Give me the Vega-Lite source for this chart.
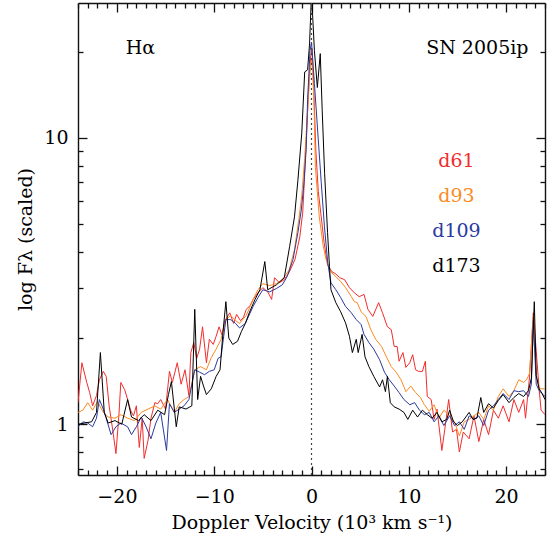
{
"$schema": "https://vega.github.io/schema/vega-lite/v6.json",
"width": 467, "height": 472,
"autosize": {"type": "none"},
"padding": {"left": 78, "top": 3, "right": 8, "bottom": 63},
"background": "white",
"config": {"view": {"stroke": null},
 "axis": {"grid": false, "domainColor": "#111", "domainWidth": 1.4, "tickColor": "#111", "tickWidth": 1.3, "labelFont": "DejaVu Serif", "labelFontSize": 19, "labelColor": "#000", "titleFont": "DejaVu Serif", "titleFontSize": 19, "titleFontWeight": "normal", "titleColor": "#000", "labelOverlap": false, "labelFlush": false}},
"data": {"values": [
{"s":"d61","v":-24,"f":1.19},{"s":"d61","v":-23.6,"f":1.64},{"s":"d61","v":-23.1,"f":1.40},{"s":"d61","v":-22.8,"f":1.29},{"s":"d61","v":-22.5,"f":1.16},{"s":"d61","v":-22.1,"f":1.26},{"s":"d61","v":-21.8,"f":1.43},{"s":"d61","v":-21.4,"f":1.53},{"s":"d61","v":-21.1,"f":1.47},{"s":"d61","v":-20.8,"f":1.16},{"s":"d61","v":-20.4,"f":0.94},{"s":"d61","v":-20.1,"f":0.79},{"s":"d61","v":-19.8,"f":1.07},{"s":"d61","v":-19.6,"f":1.40},{"s":"d61","v":-19.2,"f":1.32},{"s":"d61","v":-18.9,"f":1.22},{"s":"d61","v":-18.6,"f":1.12},{"s":"d61","v":-18.3,"f":1.07},{"s":"d61","v":-18.0,"f":1.16},{"s":"d61","v":-17.7,"f":0.83},{"s":"d61","v":-17.4,"f":1.05},{"s":"d61","v":-17.2,"f":0.76},{"s":"d61","v":-16.8,"f":0.88},{"s":"d61","v":-16.5,"f":1.05},{"s":"d61","v":-16.1,"f":1.19},{"s":"d61","v":-15.8,"f":1.18},{"s":"d61","v":-15.5,"f":1.22},{"s":"d61","v":-15.0,"f":1.13},{"s":"d61","v":-14.6,"f":1.53},{"s":"d61","v":-14.3,"f":1.40},{"s":"d61","v":-13.8,"f":1.64},{"s":"d61","v":-13.4,"f":1.38},{"s":"d61","v":-13.0,"f":1.55},{"s":"d61","v":-12.6,"f":1.26},{"s":"d61","v":-12.4,"f":1.78},{"s":"d61","v":-12.1,"f":1.93},{"s":"d61","v":-11.8,"f":1.70},{"s":"d61","v":-11.5,"f":1.83},{"s":"d61","v":-11.2,"f":2.19},{"s":"d61","v":-10.8,"f":1.64},{"s":"d61","v":-10.5,"f":1.98},{"s":"d61","v":-10.1,"f":1.90},{"s":"d61","v":-9.8,"f":2.03},{"s":"d61","v":-9.5,"f":2.19},{"s":"d61","v":-9.2,"f":2.05},{"s":"d61","v":-8.9,"f":2.30},{"s":"d61","v":-8.4,"f":2.45},{"s":"d61","v":-8.0,"f":2.25},{"s":"d61","v":-7.7,"f":2.42},{"s":"d61","v":-7.3,"f":2.30},{"s":"d61","v":-7.0,"f":2.36},{"s":"d61","v":-6.7,"f":2.52},{"s":"d61","v":-6.3,"f":2.60},{"s":"d61","v":-6.0,"f":2.73},{"s":"d61","v":-5.5,"f":2.88},{"s":"d61","v":-5.0,"f":3.0},{"s":"d61","v":-4.5,"f":2.9},{"s":"d61","v":-4.1,"f":2.73},{"s":"d61","v":-3.8,"f":3.25},{"s":"d61","v":-3.3,"f":3.12},{"s":"d61","v":-2.8,"f":3.2},{"s":"d61","v":-2.3,"f":3.39},{"s":"d61","v":-1.7,"f":3.76},{"s":"d61","v":-1.2,"f":4.52},{"s":"d61","v":-0.9,"f":5.5},{"s":"d61","v":-0.7,"f":7.5},{"s":"d61","v":-0.5,"f":10.4},{"s":"d61","v":-0.27,"f":15.5},{"s":"d61","v":-0.1,"f":19},{"s":"d61","v":0.05,"f":20.5},{"s":"d61","v":0.2,"f":16},{"s":"d61","v":0.45,"f":9},{"s":"d61","v":0.7,"f":6.5},{"s":"d61","v":1.0,"f":5.3},{"s":"d61","v":1.3,"f":4.3},{"s":"d61","v":1.65,"f":3.6},{"s":"d61","v":2.1,"f":3.41},{"s":"d61","v":2.5,"f":3.35},{"s":"d61","v":2.9,"f":3.25},{"s":"d61","v":3.4,"f":3.2},{"s":"d61","v":3.9,"f":3.0},{"s":"d61","v":4.4,"f":2.88},{"s":"d61","v":4.9,"f":2.79},{"s":"d61","v":5.4,"f":2.84},{"s":"d61","v":5.8,"f":2.52},{"s":"d61","v":6.3,"f":2.38},{"s":"d61","v":6.9,"f":2.66},{"s":"d61","v":7.3,"f":2.45},{"s":"d61","v":7.8,"f":2.19},{"s":"d61","v":8.2,"f":2.14},{"s":"d61","v":8.5,"f":1.87},{"s":"d61","v":8.8,"f":1.87},{"s":"d61","v":9.0,"f":1.66},{"s":"d61","v":9.4,"f":1.78},{"s":"d61","v":9.7,"f":1.58},{"s":"d61","v":10.1,"f":1.64},{"s":"d61","v":10.4,"f":1.75},{"s":"d61","v":10.7,"f":1.55},{"s":"d61","v":11.0,"f":1.53},{"s":"d61","v":11.4,"f":1.53},{"s":"d61","v":11.7,"f":1.66},{"s":"d61","v":11.9,"f":1.25},{"s":"d61","v":12.3,"f":1.22},{"s":"d61","v":12.6,"f":1.04},{"s":"d61","v":12.9,"f":1.13},{"s":"d61","v":13.4,"f":0.81},{"s":"d61","v":13.7,"f":0.96},{"s":"d61","v":14.1,"f":1.22},{"s":"d61","v":14.5,"f":0.94},{"s":"d61","v":14.9,"f":0.96},{"s":"d61","v":15.2,"f":0.80},{"s":"d61","v":15.6,"f":0.94},{"s":"d61","v":16.2,"f":0.89},{"s":"d61","v":16.7,"f":1.07},{"s":"d61","v":17.2,"f":0.87},{"s":"d61","v":17.7,"f":1.04},{"s":"d61","v":18.2,"f":0.92},{"s":"d61","v":18.7,"f":1.12},{"s":"d61","v":19.2,"f":1.05},{"s":"d61","v":19.7,"f":1.16},{"s":"d61","v":20.3,"f":1.02},{"s":"d61","v":20.8,"f":1.22},{"s":"d61","v":21.3,"f":1.10},{"s":"d61","v":21.8,"f":1.22},{"s":"d61","v":22.0,"f":1.05},{"s":"d61","v":22.4,"f":1.45},{"s":"d61","v":22.8,"f":2.45},{"s":"d61","v":23.1,"f":1.80},{"s":"d61","v":23.4,"f":1.32},{"s":"d61","v":23.6,"f":1.12},{"s":"d61","v":24,"f":1.08},
{"s":"d93","v":-24,"f":1.10},{"s":"d93","v":-23.5,"f":1.12},{"s":"d93","v":-23.0,"f":1.19},{"s":"d93","v":-22.5,"f":1.12},{"s":"d93","v":-22.0,"f":1.20},{"s":"d93","v":-21.4,"f":1.10},{"s":"d93","v":-20.9,"f":1.06},{"s":"d93","v":-20.2,"f":1.05},{"s":"d93","v":-19.6,"f":1.08},{"s":"d93","v":-18.9,"f":1.05},{"s":"d93","v":-18.2,"f":1.03},{"s":"d93","v":-17.5,"f":1.10},{"s":"d93","v":-16.8,"f":1.13},{"s":"d93","v":-16.1,"f":1.16},{"s":"d93","v":-15.5,"f":1.13},{"s":"d93","v":-14.8,"f":1.22},{"s":"d93","v":-14.1,"f":1.10},{"s":"d93","v":-13.6,"f":1.18},{"s":"d93","v":-13.1,"f":1.22},{"s":"d93","v":-12.6,"f":1.25},{"s":"d93","v":-12.0,"f":1.55},{"s":"d93","v":-11.4,"f":1.59},{"s":"d93","v":-10.8,"f":1.55},{"s":"d93","v":-10.3,"f":1.71},{"s":"d93","v":-9.8,"f":1.83},{"s":"d93","v":-9.3,"f":1.98},{"s":"d93","v":-8.8,"f":2.32},{"s":"d93","v":-8.3,"f":2.40},{"s":"d93","v":-7.8,"f":2.30},{"s":"d93","v":-7.4,"f":2.25},{"s":"d93","v":-6.7,"f":2.40},{"s":"d93","v":-6.0,"f":2.73},{"s":"d93","v":-5.5,"f":2.95},{"s":"d93","v":-5.0,"f":3.1},{"s":"d93","v":-4.3,"f":3.05},{"s":"d93","v":-3.6,"f":3.1},{"s":"d93","v":-3.0,"f":3.2},{"s":"d93","v":-2.3,"f":3.46},{"s":"d93","v":-1.75,"f":4.07},{"s":"d93","v":-1.3,"f":5.2},{"s":"d93","v":-1.0,"f":6.3},{"s":"d93","v":-0.7,"f":8.5},{"s":"d93","v":-0.4,"f":12.5},{"s":"d93","v":-0.15,"f":17},{"s":"d93","v":0.05,"f":19},{"s":"d93","v":0.25,"f":13.6},{"s":"d93","v":0.4,"f":7.9},{"s":"d93","v":0.8,"f":5.3},{"s":"d93","v":1.2,"f":4.2},{"s":"d93","v":1.5,"f":3.76},{"s":"d93","v":2.0,"f":3.40},{"s":"d93","v":2.5,"f":3.28},{"s":"d93","v":3.0,"f":3.15},{"s":"d93","v":3.5,"f":3.0},{"s":"d93","v":4.1,"f":2.79},{"s":"d93","v":4.4,"f":2.68},{"s":"d93","v":4.7,"f":2.66},{"s":"d93","v":5.1,"f":2.47},{"s":"d93","v":5.6,"f":2.38},{"s":"d93","v":6.1,"f":2.14},{"s":"d93","v":6.6,"f":1.98},{"s":"d93","v":7.2,"f":1.87},{"s":"d93","v":7.7,"f":1.72},{"s":"d93","v":8.2,"f":1.59},{"s":"d93","v":8.7,"f":1.52},{"s":"d93","v":9.2,"f":1.43},{"s":"d93","v":9.7,"f":1.30},{"s":"d93","v":10.2,"f":1.36},{"s":"d93","v":10.7,"f":1.29},{"s":"d93","v":11.2,"f":1.24},{"s":"d93","v":11.6,"f":1.17},{"s":"d93","v":12.1,"f":1.11},{"s":"d93","v":12.6,"f":1.17},{"s":"d93","v":13.1,"f":1.05},{"s":"d93","v":13.6,"f":1.12},{"s":"d93","v":14.2,"f":1.07},{"s":"d93","v":14.7,"f":1.02},{"s":"d93","v":15.2,"f":0.91},{"s":"d93","v":15.7,"f":1.02},{"s":"d93","v":16.2,"f":1.04},{"s":"d93","v":16.7,"f":1.07},{"s":"d93","v":17.2,"f":1.10},{"s":"d93","v":17.7,"f":1.04},{"s":"d93","v":18.2,"f":1.16},{"s":"d93","v":18.7,"f":1.12},{"s":"d93","v":19.2,"f":1.25},{"s":"d93","v":19.7,"f":1.33},{"s":"d93","v":20.3,"f":1.25},{"s":"d93","v":20.8,"f":1.31},{"s":"d93","v":21.3,"f":1.43},{"s":"d93","v":21.8,"f":1.40},{"s":"d93","v":22.1,"f":1.43},{"s":"d93","v":22.4,"f":1.50},{"s":"d93","v":22.8,"f":2.38},{"s":"d93","v":23.1,"f":1.48},{"s":"d93","v":23.4,"f":1.33},{"s":"d93","v":24,"f":1.33},
{"s":"d109","v":-24,"f":0.98},{"s":"d109","v":-23.5,"f":1.02},{"s":"d109","v":-23.0,"f":1.01},{"s":"d109","v":-22.5,"f":0.98},{"s":"d109","v":-22.1,"f":1.05},{"s":"d109","v":-21.8,"f":1.22},{"s":"d109","v":-21.4,"f":1.13},{"s":"d109","v":-21.1,"f":1.05},{"s":"d109","v":-20.6,"f":0.92},{"s":"d109","v":-20.1,"f":0.98},{"s":"d109","v":-19.6,"f":1.01},{"s":"d109","v":-18.9,"f":0.98},{"s":"d109","v":-18.5,"f":0.92},{"s":"d109","v":-18.0,"f":0.98},{"s":"d109","v":-17.5,"f":1.06},{"s":"d109","v":-17.0,"f":0.98},{"s":"d109","v":-16.5,"f":0.89},{"s":"d109","v":-16.0,"f":1.01},{"s":"d109","v":-15.5,"f":1.10},{"s":"d109","v":-14.9,"f":0.81},{"s":"d109","v":-14.6,"f":1.18},{"s":"d109","v":-14.1,"f":1.10},{"s":"d109","v":-13.6,"f":1.13},{"s":"d109","v":-13.1,"f":1.16},{"s":"d109","v":-12.6,"f":1.22},{"s":"d109","v":-12.0,"f":1.55},{"s":"d109","v":-11.5,"f":1.52},{"s":"d109","v":-11.0,"f":1.49},{"s":"d109","v":-10.5,"f":1.53},{"s":"d109","v":-10.0,"f":1.55},{"s":"d109","v":-9.6,"f":1.70},{"s":"d109","v":-9.3,"f":1.72},{"s":"d109","v":-8.8,"f":2.32},{"s":"d109","v":-8.3,"f":2.32},{"s":"d109","v":-7.8,"f":2.25},{"s":"d109","v":-7.4,"f":2.17},{"s":"d109","v":-6.8,"f":2.25},{"s":"d109","v":-6.0,"f":2.58},{"s":"d109","v":-5.5,"f":2.77},{"s":"d109","v":-5.0,"f":2.95},{"s":"d109","v":-4.3,"f":2.9},{"s":"d109","v":-3.6,"f":2.98},{"s":"d109","v":-3.0,"f":3.07},{"s":"d109","v":-2.5,"f":3.28},{"s":"d109","v":-1.9,"f":3.76},{"s":"d109","v":-1.4,"f":4.67},{"s":"d109","v":-1.05,"f":5.6},{"s":"d109","v":-0.8,"f":6.8},{"s":"d109","v":-0.55,"f":9.1},{"s":"d109","v":-0.4,"f":13.6},{"s":"d109","v":-0.15,"f":20.2},{"s":"d109","v":0.0,"f":21.6},{"s":"d109","v":0.3,"f":15.5},{"s":"d109","v":0.65,"f":10.4},{"s":"d109","v":1.0,"f":7.0},{"s":"d109","v":1.33,"f":4.9},{"s":"d109","v":1.67,"f":3.66},{"s":"d109","v":2.0,"f":3.12},{"s":"d109","v":2.5,"f":2.95},{"s":"d109","v":3.0,"f":2.77},{"s":"d109","v":3.5,"f":2.58},{"s":"d109","v":4.1,"f":2.45},{"s":"d109","v":4.6,"f":2.32},{"s":"d109","v":5.1,"f":2.23},{"s":"d109","v":5.4,"f":2.06},{"s":"d109","v":5.9,"f":1.93},{"s":"d109","v":6.4,"f":1.83},{"s":"d109","v":7.0,"f":1.68},{"s":"d109","v":7.5,"f":1.52},{"s":"d109","v":8.0,"f":1.43},{"s":"d109","v":8.5,"f":1.36},{"s":"d109","v":9.0,"f":1.29},{"s":"d109","v":9.5,"f":1.22},{"s":"d109","v":10.1,"f":1.17},{"s":"d109","v":10.6,"f":1.19},{"s":"d109","v":11.1,"f":1.12},{"s":"d109","v":11.6,"f":1.08},{"s":"d109","v":12.1,"f":1.10},{"s":"d109","v":12.6,"f":1.02},{"s":"d109","v":13.1,"f":1.07},{"s":"d109","v":13.6,"f":0.99},{"s":"d109","v":14.2,"f":1.07},{"s":"d109","v":14.7,"f":0.99},{"s":"d109","v":15.2,"f":1.02},{"s":"d109","v":15.7,"f":0.96},{"s":"d109","v":16.2,"f":1.07},{"s":"d109","v":16.7,"f":1.04},{"s":"d109","v":17.2,"f":1.07},{"s":"d109","v":17.7,"f":0.99},{"s":"d109","v":18.2,"f":1.12},{"s":"d109","v":18.7,"f":1.16},{"s":"d109","v":19.2,"f":1.22},{"s":"d109","v":19.7,"f":1.28},{"s":"d109","v":20.3,"f":1.22},{"s":"d109","v":20.8,"f":1.31},{"s":"d109","v":21.3,"f":1.30},{"s":"d109","v":21.8,"f":1.31},{"s":"d109","v":22.3,"f":1.25},{"s":"d109","v":22.6,"f":1.38},{"s":"d109","v":22.8,"f":2.3},{"s":"d109","v":23.1,"f":1.38},{"s":"d109","v":23.4,"f":1.31},{"s":"d109","v":24,"f":1.25},
{"s":"d173","v":-24,"f":1.0},{"s":"d173","v":-23.3,"f":1.01},{"s":"d173","v":-22.6,"f":1.02},{"s":"d173","v":-22.1,"f":1.10},{"s":"d173","v":-21.7,"f":1.78},{"s":"d173","v":-21.3,"f":1.10},{"s":"d173","v":-20.9,"f":1.01},{"s":"d173","v":-20.2,"f":1.03},{"s":"d173","v":-19.5,"f":1.0},{"s":"d173","v":-18.9,"f":1.22},{"s":"d173","v":-18.5,"f":1.06},{"s":"d173","v":-17.8,"f":1.03},{"s":"d173","v":-17.2,"f":1.08},{"s":"d173","v":-16.5,"f":1.03},{"s":"d173","v":-15.8,"f":1.12},{"s":"d173","v":-15.1,"f":1.08},{"s":"d173","v":-14.7,"f":1.27},{"s":"d173","v":-14.4,"f":1.41},{"s":"d173","v":-13.9,"f":0.98},{"s":"d173","v":-13.6,"f":1.15},{"s":"d173","v":-12.9,"f":1.13},{"s":"d173","v":-12.3,"f":1.16},{"s":"d173","v":-12.0,"f":2.52},{"s":"d173","v":-11.7,"f":1.22},{"s":"d173","v":-11.4,"f":1.47},{"s":"d173","v":-11.1,"f":1.36},{"s":"d173","v":-10.8,"f":1.27},{"s":"d173","v":-10.3,"f":1.33},{"s":"d173","v":-9.8,"f":1.47},{"s":"d173","v":-9.4,"f":1.55},{"s":"d173","v":-9.1,"f":2.09},{"s":"d173","v":-8.8,"f":2.68},{"s":"d173","v":-8.5,"f":2.0},{"s":"d173","v":-8.1,"f":1.90},{"s":"d173","v":-7.6,"f":1.95},{"s":"d173","v":-7.2,"f":2.11},{"s":"d173","v":-6.8,"f":2.25},{"s":"d173","v":-6.4,"f":2.45},{"s":"d173","v":-5.8,"f":2.73},{"s":"d173","v":-5.3,"f":2.95},{"s":"d173","v":-4.8,"f":3.7},{"s":"d173","v":-4.5,"f":2.95},{"s":"d173","v":-3.6,"f":3.07},{"s":"d173","v":-2.8,"f":3.25},{"s":"d173","v":-2.25,"f":4.17},{"s":"d173","v":-1.75,"f":5.3},{"s":"d173","v":-1.4,"f":7.1},{"s":"d173","v":-1.0,"f":10.4},{"s":"d173","v":-0.7,"f":17},{"s":"d173","v":-0.4,"f":17.3},{"s":"d173","v":-0.2,"f":21.3},{"s":"d173","v":0.0,"f":32},{"s":"d173","v":0.3,"f":20.2},{"s":"d173","v":0.6,"f":15},{"s":"d173","v":0.9,"f":19.7},{"s":"d173","v":1.1,"f":12.5},{"s":"d173","v":1.35,"f":7.5},{"s":"d173","v":1.65,"f":4.67},{"s":"d173","v":1.85,"f":3.55},{"s":"d173","v":2.0,"f":2.95},{"s":"d173","v":2.5,"f":2.66},{"s":"d173","v":3.0,"f":2.47},{"s":"d173","v":3.5,"f":2.26},{"s":"d173","v":3.9,"f":2.03},{"s":"d173","v":4.2,"f":1.78},{"s":"d173","v":4.6,"f":1.98},{"s":"d173","v":4.8,"f":1.78},{"s":"d173","v":5.2,"f":2.06},{"s":"d173","v":5.5,"f":1.72},{"s":"d173","v":5.9,"f":1.59},{"s":"d173","v":6.4,"f":1.47},{"s":"d173","v":7.0,"f":1.35},{"s":"d173","v":7.3,"f":1.43},{"s":"d173","v":7.6,"f":1.30},{"s":"d173","v":7.8,"f":1.47},{"s":"d173","v":8.1,"f":1.19},{"s":"d173","v":8.5,"f":1.15},{"s":"d173","v":9.0,"f":1.13},{"s":"d173","v":9.5,"f":1.10},{"s":"d173","v":9.9,"f":1.04},{"s":"d173","v":10.4,"f":1.12},{"s":"d173","v":10.9,"f":1.06},{"s":"d173","v":11.4,"f":1.12},{"s":"d173","v":11.9,"f":1.08},{"s":"d173","v":12.4,"f":1.05},{"s":"d173","v":12.9,"f":1.10},{"s":"d173","v":13.4,"f":1.02},{"s":"d173","v":13.9,"f":1.04},{"s":"d173","v":14.2,"f":1.12},{"s":"d173","v":14.6,"f":1.02},{"s":"d173","v":15.0,"f":0.99},{"s":"d173","v":15.5,"f":1.02},{"s":"d173","v":16.2,"f":1.10},{"s":"d173","v":16.6,"f":1.04},{"s":"d173","v":17.0,"f":1.05},{"s":"d173","v":17.4,"f":1.24},{"s":"d173","v":17.7,"f":1.10},{"s":"d173","v":18.2,"f":1.18},{"s":"d173","v":18.7,"f":1.14},{"s":"d173","v":19.2,"f":1.21},{"s":"d173","v":19.7,"f":1.27},{"s":"d173","v":20.3,"f":1.19},{"s":"d173","v":20.8,"f":1.24},{"s":"d173","v":21.3,"f":1.28},{"s":"d173","v":21.8,"f":1.25},{"s":"d173","v":22.3,"f":1.31},{"s":"d173","v":22.6,"f":1.45},{"s":"d173","v":22.9,"f":2.68},{"s":"d173","v":23.1,"f":1.48},{"s":"d173","v":23.4,"f":1.33},{"s":"d173","v":23.7,"f":1.28},{"s":"d173","v":24,"f":1.22}
]},
"resolve": {"axis": {"x": "independent", "y": "independent"}},
"layer": [
 {"mark": {"type": "line", "clip": true, "interpolate": "linear"},
  "encoding": {
   "x": {"field": "v", "type": "quantitative", "scale": {"domain": [-24, 24], "nice": false, "zero": false},
     "axis": {"orient": "bottom", "values": [-24,-23,-22,-21,-20,-19,-18,-17,-16,-15,-14,-13,-12,-11,-10,-9,-8,-7,-6,-5,-4,-3,-2,-1,0,1,2,3,4,5,6,7,8,9,10,11,12,13,14,15,16,17,18,19,20,21,22,23,24],
       "tickSize": {"condition": {"test": "datum.value % 10 === 0", "value": -9}, "value": -5},
       "labelExpr": "datum.value % 10 === 0 ? datum.label : ''", "labelPadding": 21, "title": "Doppler Velocity (10³ km s⁻¹)", "titlePadding": 3}},
   "y": {"field": "f", "type": "quantitative", "scale": {"type": "log", "domain": [0.665, 29.6], "nice": false},
     "axis": {"orient": "left", "values": [0.7,0.8,0.9,1,2,3,4,5,6,7,8,9,10,20],
       "tickSize": {"condition": {"test": "datum.value === 1 || datum.value === 10", "value": -9}, "value": -5},
       "labelExpr": "datum.value === 1 ? '1' : (datum.value === 10 ? '10' : '')", "labelPadding": 19, "title": "log Fλ (scaled)", "titlePadding": 8}},
   "color": {"field": "s", "type": "nominal", "scale": {"domain": ["d61","d93","d109","d173"], "range": ["#f22c2c","#fb8a22","#2a3a9e","#000000"]}, "legend": null},
   "strokeWidth": {"field": "s", "type": "nominal", "scale": {"domain": ["d61","d93","d109","d173"], "range": [1,1,1,1.6]}, "legend": null}
  }},
 {"mark": {"type": "point", "opacity": 0},
  "encoding": {
   "x": {"field": "v", "type": "quantitative",
     "axis": {"orient": "top", "values": [-24,-23,-22,-21,-20,-19,-18,-17,-16,-15,-14,-13,-12,-11,-10,-9,-8,-7,-6,-5,-4,-3,-2,-1,0,1,2,3,4,5,6,7,8,9,10,11,12,13,14,15,16,17,18,19,20,21,22,23,24],
       "tickSize": {"condition": {"test": "datum.value % 10 === 0", "value": -9}, "value": -5}, "labels": false, "title": null}},
   "y": {"field": "f", "type": "quantitative",
     "axis": {"orient": "right", "values": [0.7,0.8,0.9,1,2,3,4,5,6,7,8,9,10,20],
       "tickSize": {"condition": {"test": "datum.value === 1 || datum.value === 10", "value": -9}, "value": -5}, "labels": false, "title": null}}
  }},
 {"data": {"values": [{}]}, "mark": {"type": "rule", "strokeDash": [2, 3], "color": "#444", "strokeWidth": 1.2},
  "encoding": {"x": {"datum": 0, "axis": null}}},
 {"data": {"values": [{}]}, "mark": {"type": "text", "font": "DejaVu Serif", "fontSize": 19, "align": "left", "baseline": "alphabetic", "color": "#000"},
  "encoding": {"x": {"datum": -19.1, "axis": null}, "y": {"datum": 19.7, "axis": null}, "text": {"value": "Hα"}}},
 {"data": {"values": [{}]}, "mark": {"type": "text", "font": "DejaVu Serif", "fontSize": 19, "align": "right", "baseline": "alphabetic", "color": "#000"},
  "encoding": {"x": {"datum": 22.3, "axis": null}, "y": {"datum": 19.7, "axis": null}, "text": {"value": "SN 2005ip"}}},
 {"data": {"values": [{}]}, "mark": {"type": "text", "font": "DejaVu Serif", "fontSize": 19, "align": "center", "baseline": "alphabetic", "color": "#f22c2c"},
  "encoding": {"x": {"datum": 14.9, "axis": null}, "y": {"datum": 7.92, "axis": null}, "text": {"value": "d61"}}},
 {"data": {"values": [{}]}, "mark": {"type": "text", "font": "DejaVu Serif", "fontSize": 19, "align": "center", "baseline": "alphabetic", "color": "#fb8a22"},
  "encoding": {"x": {"datum": 14.9, "axis": null}, "y": {"datum": 5.97, "axis": null}, "text": {"value": "d93"}}},
 {"data": {"values": [{}]}, "mark": {"type": "text", "font": "DejaVu Serif", "fontSize": 19, "align": "center", "baseline": "alphabetic", "color": "#2a3a9e"},
  "encoding": {"x": {"datum": 14.9, "axis": null}, "y": {"datum": 4.51, "axis": null}, "text": {"value": "d109"}}},
 {"data": {"values": [{}]}, "mark": {"type": "text", "font": "DejaVu Serif", "fontSize": 19, "align": "center", "baseline": "alphabetic", "color": "#000"},
  "encoding": {"x": {"datum": 14.9, "axis": null}, "y": {"datum": 3.40, "axis": null}, "text": {"value": "d173"}}}
]
}
